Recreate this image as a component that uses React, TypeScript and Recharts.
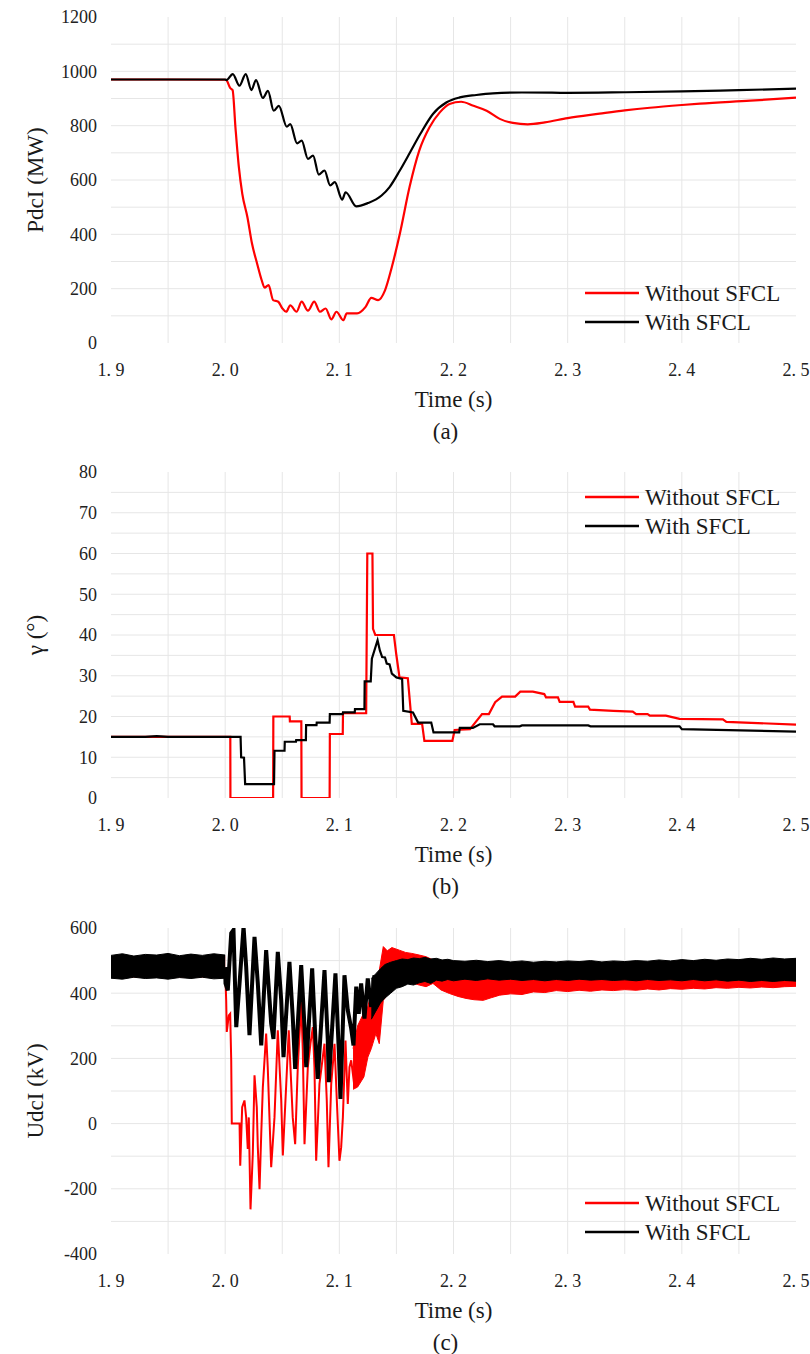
import React from 'react';
import { ComposedChart, Line, Area, XAxis, YAxis, CartesianGrid, Legend } from 'recharts';

const FONT = 'Liberation Serif, Times New Roman, DejaVu Serif, serif';
const RED = '#ff0000';
const BLACK = '#000000';
const GRID = '#e6e6e6';
const TEXT = '#1a1a1a';

const X_TICKS = [1.9, 2.0, 2.1, 2.2, 2.3, 2.4, 2.5];
const X_GRID = [1.95, 2.0, 2.05, 2.1, 2.15, 2.2, 2.25, 2.3, 2.35, 2.4, 2.45];

const LEGEND = [
  { name: 'Without SFCL', color: RED },
  { name: 'With SFCL', color: BLACK },
];

// (a) Pdcl, MW
const PDC_TICKS = [0, 200, 400, 600, 800, 1000, 1200];
const PDC_GRID = [100, 200, 300, 400, 500, 600, 700, 800, 900, 1000, 1100];
const PDC_WITHOUT: [number, number][] = [
  [1.9, 970], [1.95, 970], [2.0, 969], [2.001, 968], [2.0045, 938], [2.0065, 931], [2.009, 794],
  [2.012, 647], [2.015, 549], [2.0195, 463], [2.0235, 366], [2.028, 292], [2.032, 231], [2.0345, 204],
  [2.038, 213], [2.042, 158], [2.0465, 152], [2.05, 128], [2.0535, 115], [2.057, 139], [2.0625, 115],
  [2.067, 152], [2.0725, 119], [2.078, 152], [2.083, 115], [2.088, 127], [2.093, 87], [2.0975, 115],
  [2.1035, 84], [2.1065, 109], [2.1155, 109], [2.123, 133], [2.128, 166], [2.134, 158], [2.14, 194],
  [2.146, 280], [2.153, 402], [2.1615, 574], [2.17, 708], [2.179, 794], [2.188, 849], [2.1965, 880],
  [2.2067, 888], [2.2175, 873], [2.229, 855], [2.2405, 825], [2.252, 810], [2.265, 805], [2.28, 812],
  [2.3, 828], [2.328, 844], [2.35, 856], [2.372, 866], [2.4, 876], [2.416, 881], [2.46, 892], [2.5, 903],
];
const PDC_WITH: [number, number][] = [
  [1.9, 970], [1.95, 970], [2.0, 970], [2.001, 968], [2.0067, 990], [2.0125, 947], [2.018, 990],
  [2.023, 931], [2.027, 968], [2.033, 902], [2.0375, 928], [2.0425, 855], [2.047, 873], [2.054, 796],
  [2.057, 806], [2.063, 735], [2.067, 745], [2.0725, 678], [2.077, 690], [2.082, 620], [2.087, 635],
  [2.092, 580], [2.096, 592], [2.1025, 528], [2.1055, 555], [2.1148, 503], [2.125, 515], [2.137, 543],
  [2.144, 574], [2.153, 635], [2.162, 702], [2.171, 770], [2.182, 843], [2.194, 886], [2.2055, 904],
  [2.22, 913], [2.2345, 919], [2.26, 922], [2.3, 921], [2.35, 923], [2.4, 926], [2.45, 931], [2.5, 936],
];

// (b) gamma, degrees
const GAMMA_TICKS = [0, 10, 20, 30, 40, 50, 60, 70, 80];
const GAMMA_GRID = [5, 10, 15, 20, 25, 30, 35, 40, 45, 50, 55, 60, 65, 70, 75];
const GAMMA_WITHOUT: [number, number][] = [
  [1.9, 15], [2.0045, 15], [2.0046, 0], [2.042, 0], [2.0422, 20], [2.0565, 20], [2.0567, 18.8],
  [2.0667, 18.8], [2.0669, 0], [2.0915, 0], [2.0917, 15.7], [2.103, 15.7], [2.1032, 20.8],
  [2.1235, 20.8], [2.1245, 60], [2.129, 60], [2.1295, 41.5], [2.1315, 40], [2.1478, 40],
  [2.1498, 35.4], [2.1527, 29.6], [2.16, 29.4], [2.1635, 18.2], [2.1725, 18.2], [2.1745, 14],
  [2.199, 14], [2.201, 16.7], [2.2145, 16.9], [2.219, 18.5], [2.225, 20.6], [2.231, 20.6],
  [2.2365, 23.5], [2.2425, 24.9], [2.254, 24.9], [2.2585, 26.1], [2.2695, 26.1], [2.2795, 25.5],
  [2.281, 24.7], [2.2915, 24.7], [2.293, 23.6], [2.305, 23.6], [2.3065, 22.4], [2.318, 22.4],
  [2.3195, 21.7], [2.34, 21.4], [2.357, 21.2], [2.36, 20.6], [2.37, 20.6], [2.372, 20.2],
  [2.386, 20.2], [2.398, 19.4], [2.436, 19.3], [2.439, 18.7], [2.5, 18.0],
];
const GAMMA_WITH: [number, number][] = [
  [1.9, 15], [1.93, 15], [1.94, 15.2], [1.95, 15], [2.0135, 15], [2.014, 10], [2.0165, 9.9],
  [2.0175, 3.4], [2.0428, 3.4], [2.0432, 11.6], [2.052, 11.6], [2.0522, 13.8], [2.062, 13.8],
  [2.0622, 14.2], [2.0707, 14.2], [2.0709, 17.9], [2.08, 17.9], [2.0802, 18.5], [2.0915, 18.5],
  [2.0917, 20.6], [2.103, 20.6], [2.1032, 21], [2.1135, 21], [2.1137, 21.8], [2.122, 21.8],
  [2.1222, 28.6], [2.1275, 28.6], [2.1285, 34.2], [2.1335, 38.7], [2.1355, 36.2], [2.1375, 34.6],
  [2.14, 34.5], [2.1415, 33], [2.144, 32.8], [2.146, 30.5], [2.15, 29.6], [2.155, 29.2],
  [2.156, 21.4], [2.1645, 21], [2.169, 18.5], [2.1805, 18.5], [2.1825, 16.1], [2.205, 16.1],
  [2.2055, 17.2], [2.217, 17.2], [2.223, 18.1], [2.2346, 18.1], [2.236, 17.6], [2.258, 17.6],
  [2.26, 17.8], [2.318, 17.8], [2.32, 17.6], [2.398, 17.6], [2.4, 16.9], [2.5, 16.3],
];

// (c) Udcl, kV
const UDC_TICKS = [-400, -200, 0, 200, 400, 600];
const UDC_GRID = [-300, -200, -100, 0, 100, 200, 300, 400, 500];
// ripple bands: [t, low, high]
const UDC_WITHOUT_BAND_PRE: [number, number, number][] = [
  [1.9, 450, 512], [2.0, 450, 512],
];
const UDC_WITHOUT_BAND_POST: [number, number, number][] = [
  [2.112, 105, 230], [2.116, 112, 300], [2.1215, 143, 340], [2.125, 204, 360], [2.128, 230, 400],
  [2.132, 276, 440], [2.135, 245, 470], [2.1385, 378, 543], [2.142, 395, 530], [2.146, 409, 540],
  [2.1525, 430, 532], [2.158, 430, 525], [2.1635, 432, 522], [2.17, 425, 517], [2.176, 420, 512],
  [2.182, 430, 502], [2.189, 410, 492], [2.1965, 399, 482], [2.204, 390, 476], [2.211, 384, 472],
  [2.218, 380, 470], [2.226, 378, 471], [2.233, 386, 470], [2.2405, 394, 472], [2.25, 398, 470],
  [2.26, 396, 473], [2.27, 404, 471], [2.28, 402, 473], [2.29, 408, 472], [2.3, 405, 474],
  [2.31, 409, 473], [2.32, 406, 475], [2.33, 410, 474], [2.34, 408, 476], [2.35, 411, 475],
  [2.36, 409, 476], [2.37, 413, 477], [2.38, 410, 476], [2.39, 414, 478], [2.4, 412, 477],
  [2.41, 415, 478], [2.42, 413, 479], [2.43, 417, 478], [2.44, 415, 480], [2.45, 418, 479],
  [2.46, 416, 480], [2.47, 419, 481], [2.48, 417, 480], [2.49, 420, 482], [2.5, 421, 481],
];
const UDC_WITHOUT: [number, number][] = [
  [2.0, 470], [2.0003, 440], [2.0009, 378], [2.0014, 281], [2.0032, 332], [2.0044, 337], [2.0053, 194],
  [2.0058, 0], [2.0126, 0], [2.0132, -129], [2.0149, 50], [2.0169, 71], [2.0184, 19], [2.0198, -78],
  [2.0207, 19], [2.0222, -263], [2.0242, -93], [2.0257, 148], [2.0277, 50], [2.0286, -73],
  [2.0301, -201], [2.0316, -32], [2.033, 112], [2.0359, 276], [2.0373, 173], [2.0403, -134],
  [2.0432, 19], [2.0461, 286], [2.0491, 71], [2.0505, -98], [2.0535, 122], [2.0557, 286],
  [2.0592, 19], [2.0613, -63], [2.0636, 173], [2.0666, 373], [2.068, 225], [2.0695, -63],
  [2.0724, 173], [2.0747, 245], [2.0768, 296], [2.0782, 173], [2.0797, -114], [2.0826, 122],
  [2.087, 245], [2.089, 71], [2.0905, -134], [2.0929, 122], [2.0958, 245], [2.0978, 71],
  [2.1001, -114], [2.1016, -73], [2.1031, 19], [2.1054, 255], [2.1074, 60], [2.1089, 173],
  [2.1104, 194], [2.1133, 112], [2.1148, 204],
];
const UDC_WITH_BAND_PRE: [number, number, number][] = [
  [1.9, 446, 516], [1.91, 443, 521], [1.92, 449, 514], [1.93, 445, 519], [1.94, 447, 517],
  [1.95, 443, 522], [1.96, 448, 515], [1.97, 445, 520], [1.98, 449, 516], [1.99, 444, 521],
  [2.0, 446, 517],
];
const UDC_WITH_BAND_POST: [number, number, number][] = [
  [2.128, 320, 445], [2.132, 345, 460], [2.136, 370, 475], [2.14, 385, 488], [2.145, 400, 495],
  [2.15, 415, 500], [2.155, 420, 505], [2.16, 428, 503], [2.165, 425, 508], [2.17, 432, 506],
  [2.175, 436, 510], [2.18, 430, 505], [2.185, 440, 507], [2.19, 437, 502], [2.195, 442, 504],
  [2.2, 438, 500], [2.21, 443, 498], [2.22, 439, 501], [2.23, 444, 497], [2.24, 440, 500],
  [2.25, 443, 496], [2.26, 439, 499], [2.27, 442, 495], [2.28, 438, 498], [2.29, 442, 496],
  [2.3, 439, 499], [2.31, 443, 497], [2.32, 440, 500], [2.33, 442, 496], [2.34, 439, 499],
  [2.35, 441, 497], [2.36, 438, 500], [2.37, 442, 498], [2.38, 439, 502], [2.39, 441, 499],
  [2.4, 438, 503], [2.41, 442, 500], [2.42, 438, 504], [2.43, 441, 501], [2.44, 437, 505],
  [2.45, 440, 503], [2.46, 436, 507], [2.47, 439, 504], [2.48, 436, 508], [2.49, 439, 505],
  [2.5, 437, 507],
];
const UDC_WITH: [number, number][] = [
  [2.0, 480], [2.0003, 430], [2.0023, 409], [2.0053, 584], [2.0073, 594], [2.0097, 296], [2.0126, 430],
  [2.0161, 604], [2.0184, 481], [2.0213, 271], [2.0257, 573], [2.0286, 430], [2.0316, 240],
  [2.0359, 532], [2.0403, 307], [2.0423, 260], [2.0461, 527], [2.0491, 378], [2.0511, 204],
  [2.0563, 496], [2.0592, 327], [2.0613, 168], [2.0666, 486], [2.0695, 296], [2.071, 173],
  [2.0762, 476], [2.0791, 255], [2.0811, 137], [2.087, 471], [2.0899, 255], [2.0908, 127],
  [2.0966, 461], [2.0995, 225], [2.101, 76], [2.1045, 455], [2.1074, 348], [2.1104, 291],
  [2.1124, 240], [2.1148, 420], [2.117, 337], [2.1191, 430], [2.122, 322], [2.1249, 445],
  [2.1279, 358], [2.1308, 455],
];

const pts = (arr: [number, number][]) => arr.map(([t, v]) => ({ t, v }));
const band = (arr: [number, number, number][]) => arr.map(([t, lo, hi]) => ({ t, range: [lo, hi] }));

const W = 810;
const H = 455;
const MARGIN = { top: 17, right: 14, bottom: 82, left: 0 };
const TEXT_STYLE = { fontFamily: FONT, fontSize: 23, fill: TEXT };

function LegendBox() {
  return (
    <svg width={220} height={60} style={{ display: 'block', overflow: 'visible' }}>
      {LEGEND.map((item, i) => (
        <g key={item.name}>
          <line x1={0} x2={54} y1={14 + i * 29} y2={14 + i * 29} stroke={item.color} strokeWidth={2.5} />
          <text x={60} y={14 + i * 29} dominantBaseline="central" style={TEXT_STYLE}>
            {item.name}
          </text>
        </g>
      ))}
    </svg>
  );
}

function YTitle({ viewBox, value }: any) {
  const cy = viewBox.y + viewBox.height / 2;
  return (
    <text x={35} y={cy} transform={`rotate(-90, 35, ${cy})`} textAnchor="middle" dominantBaseline="central"
      style={TEXT_STYLE}>
      {value}
    </text>
  );
}

function XTitle({ viewBox, caption }: any) {
  const cx = viewBox.x + viewBox.width / 2;
  return (
    <g>
      <text x={cx} y={viewBox.y + 56} textAnchor="middle" dominantBaseline="central" style={TEXT_STYLE}>
        Time (s)
      </text>
      <text x={cx - 8} y={viewBox.y + 88} textAnchor="middle" dominantBaseline="central" style={TEXT_STYLE}>
        {caption}
      </text>
    </g>
  );
}

const TICK = { fontSize: 18, fill: '#222', style: { fontFamily: FONT } };
const fmtTime = (v: number) => v.toFixed(1).replace('.', '. ');

function Panel({ top, yTicks, yGrid, yTitle, caption, legendTop, children }: any) {
  const domain = [yTicks[0], yTicks[yTicks.length - 1]];
  return (
    <div style={{ position: 'absolute', left: 0, top, fontFamily: FONT }}>
      <ComposedChart width={W} height={H} margin={MARGIN} style={{ fontFamily: FONT }}>
        <CartesianGrid stroke={GRID} horizontalValues={yGrid} verticalValues={X_GRID} />
        <XAxis dataKey="t" type="number" domain={[1.9, 2.5]} ticks={X_TICKS} allowDataOverflow
          tickFormatter={fmtTime} axisLine={false} tickLine={false} tickSize={0} tickMargin={20}
          height={30} tick={TICK} interval={0} label={<XTitle caption={caption} />} />
        <YAxis type="number" domain={domain} ticks={yTicks} allowDataOverflow axisLine={false}
          tickLine={false} tickSize={0} tickMargin={14} width={111} tick={TICK} interval={0}
          label={<YTitle value={yTitle} />} />
        {children}
        <Legend layout="vertical" align="center" verticalAlign="middle" content={<LegendBox />}
          wrapperStyle={{ left: 585, top: legendTop, width: 220, height: 60 }} />
      </ComposedChart>
    </div>
  );
}

export default function App() {
  return (
    <div style={{ position: 'absolute', left: 0, top: 0, width: W, height: 1354, background: '#fff' }}>
      <Panel top={0} yTicks={PDC_TICKS} yGrid={PDC_GRID} yTitle="PdcI (MW)" caption="(a)" legendTop={279}>
        <Line data={pts(PDC_WITHOUT)} dataKey="v" type="monotone" stroke={RED} strokeWidth={2.2} dot={false}
          isAnimationActive={false} />
        <Line data={pts(PDC_WITH)} dataKey="v" type="monotone" stroke={BLACK} strokeWidth={2.2} dot={false}
          isAnimationActive={false} />
      </Panel>
      <Panel top={455} yTicks={GAMMA_TICKS} yGrid={GAMMA_GRID} yTitle="γ (°)" caption="(b)" legendTop={28}>
        <Line data={pts(GAMMA_WITHOUT)} dataKey="v" type="linear" stroke={RED} strokeWidth={2.2} dot={false}
          isAnimationActive={false} />
        <Line data={pts(GAMMA_WITH)} dataKey="v" type="linear" stroke={BLACK} strokeWidth={2.2} dot={false}
          isAnimationActive={false} />
      </Panel>
      <Panel top={911} yTicks={UDC_TICKS} yGrid={UDC_GRID} yTitle="UdcI (kV)" caption="(c)" legendTop={278}>
        <Area data={band(UDC_WITHOUT_BAND_PRE)} dataKey="range" type="linear" stroke={RED} strokeWidth={1}
          fill={RED} fillOpacity={1} isAnimationActive={false} />
        <Area data={band(UDC_WITHOUT_BAND_POST)} dataKey="range" type="linear" stroke={RED} strokeWidth={1}
          fill={RED} fillOpacity={1} isAnimationActive={false} />
        <Line data={pts(UDC_WITHOUT)} dataKey="v" type="linear" stroke={RED} strokeWidth={2} dot={false}
          isAnimationActive={false} />
        <Area data={band(UDC_WITH_BAND_PRE)} dataKey="range" type="linear" stroke={BLACK} strokeWidth={1}
          fill={BLACK} fillOpacity={1} isAnimationActive={false} />
        <Area data={band(UDC_WITH_BAND_POST)} dataKey="range" type="linear" stroke={BLACK} strokeWidth={1}
          fill={BLACK} fillOpacity={1} isAnimationActive={false} />
        <Line data={pts(UDC_WITH)} dataKey="v" type="linear" stroke={BLACK} strokeWidth={4} dot={false}
          isAnimationActive={false} />
      </Panel>
    </div>
  );
}
